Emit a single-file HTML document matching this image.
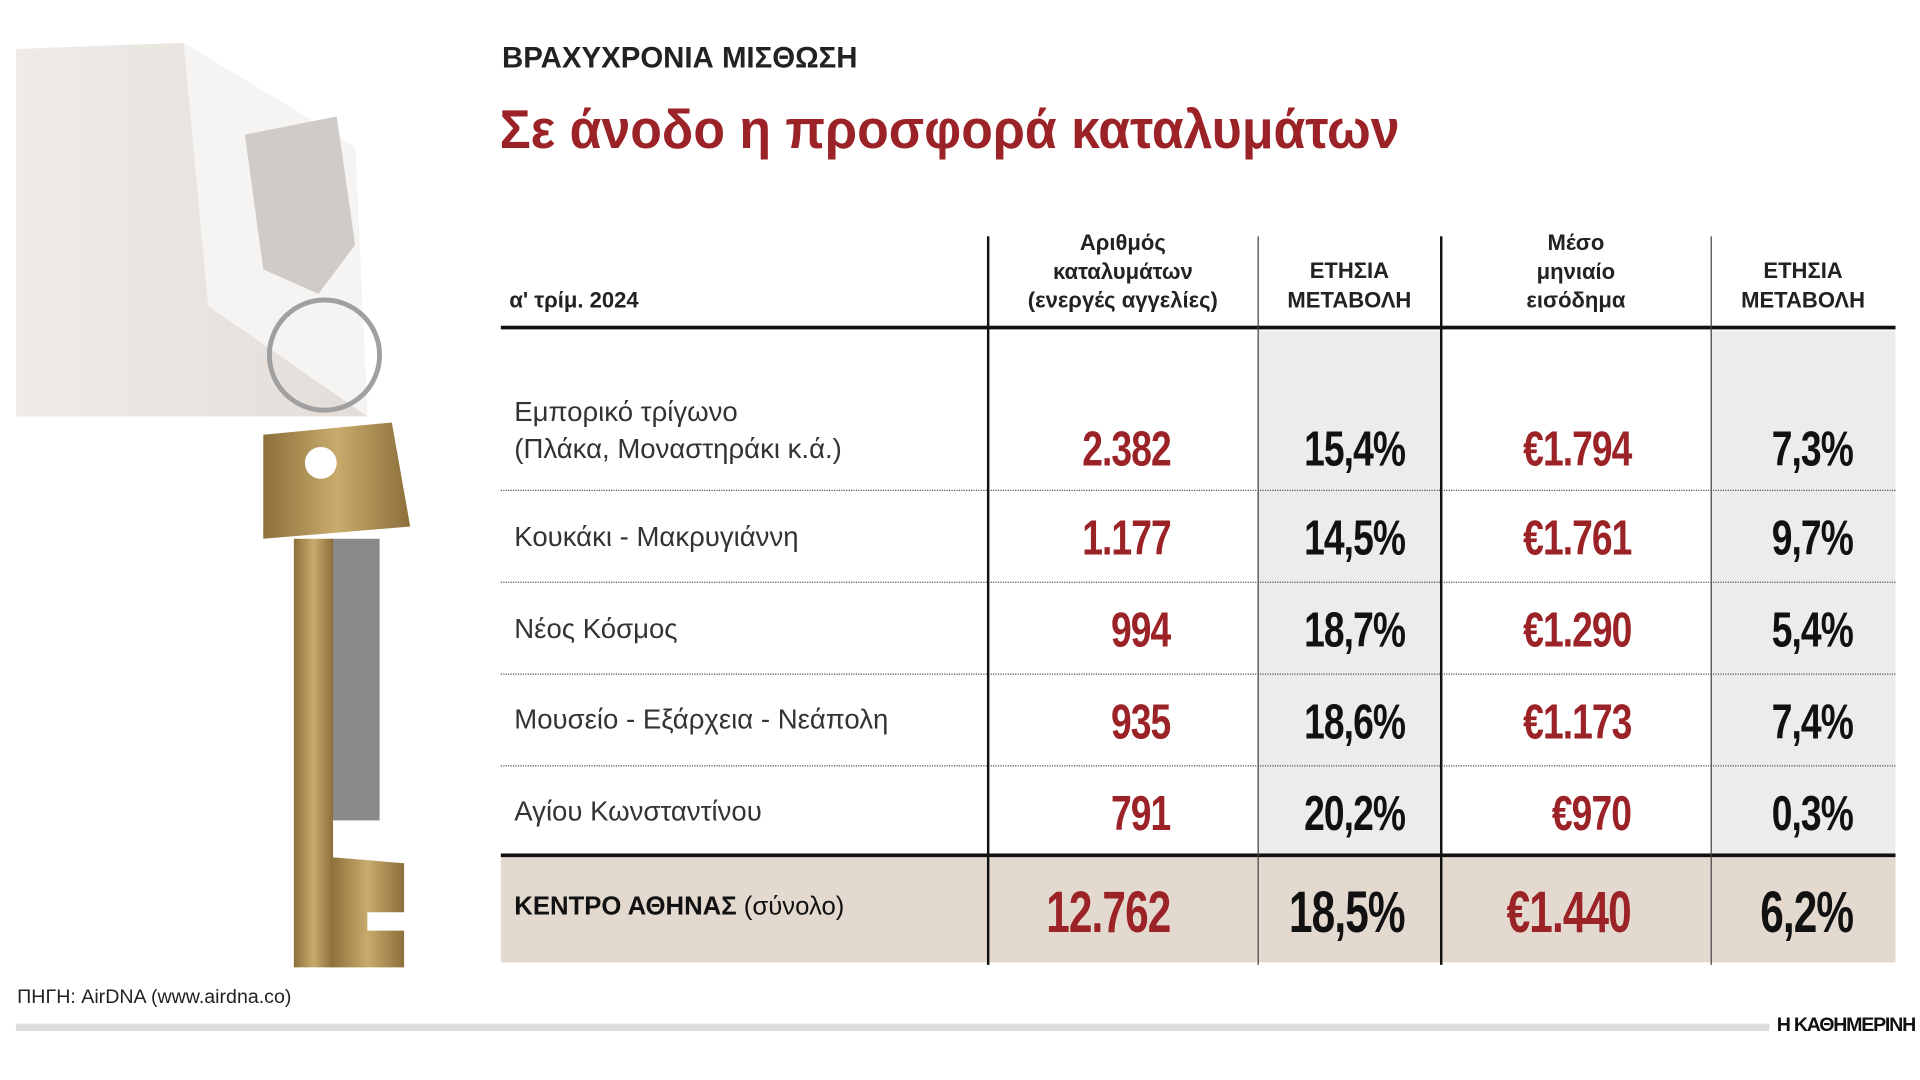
<!DOCTYPE html>
<html><head><meta charset="utf-8"><style>
html,body{margin:0;padding:0;background:#fff;}
body{width:1920px;height:1080px;overflow:hidden;position:relative;}
#c{position:absolute;left:0;top:0;width:1568px;height:882px;transform:scale(1.22449);transform-origin:0 0;font-family:"Liberation Sans",sans-serif;}
.a{position:absolute;white-space:nowrap;}
.h{font-weight:bold;font-size:18px;line-height:23.5px;text-align:center;color:#222;}
.lab{font-size:22.5px;color:#333;left:420px;}
.n{font-weight:bold;font-size:40px;color:#111;text-align:right;transform:scaleX(0.76);transform-origin:right center;line-height:40px;letter-spacing:-1px;}
.r{color:#9b2226;}
.dot{position:absolute;left:409px;width:1139px;border-top:1.5px dotted #555;}
</style></head><body><div id="c">
<svg class="a" style="left:0;top:0" width="400" height="800">
<defs><linearGradient id="g" x1="0" x2="1"><stop offset="0" stop-color="#efebe7"/><stop offset="1" stop-color="#e2ddd8"/></linearGradient>
<linearGradient id="k" x1="0" x2="1"><stop offset="0" stop-color="#8c6f3a"/><stop offset=".5" stop-color="#c8ab6c"/><stop offset="1" stop-color="#8c6f3a"/></linearGradient></defs>
<polygon points="13,40 150,35 290,120 300,340 13,340" fill="url(#g)"/>
<polygon points="150,35 290,120 300,340 170,250" fill="#f6f4f2"/>
<path d="M200,110 L275,95 L290,200 L260,240 L215,220 Z" fill="#cfcbc6"/>
<circle cx="265" cy="290" r="45" fill="none" stroke="#a0a0a0" stroke-width="4"/>
<path d="M215,355 L320,345 L335,430 L215,440 Z" fill="url(#k)"/>
<circle cx="262" cy="378" r="13" fill="#fff"/>
<rect x="270" y="440" width="40" height="230" fill="#8a8a8a"/>
<rect x="240" y="440" width="32" height="350" fill="url(#k)"/>
<path d="M270,700 L330,705 L330,745 L300,745 L300,760 L330,760 L330,790 L270,790 Z" fill="url(#k)"/>
</svg>
<div class="a" style="left:410px;top:34px;font-size:24px;font-weight:bold;color:#222;">ΒΡΑΧΥΧΡΟΝΙΑ ΜΙΣΘΩΣΗ</div>
<div class="a" style="left:408px;top:80px;font-size:45px;font-weight:bold;color:#9b2226;transform:scaleX(0.94);transform-origin:left center;">Σε άνοδο η προσφορά καταλυμάτων</div>
<div class="a" style="left:1027px;top:270px;width:150px;height:428px;background:#ececec"></div>
<div class="a" style="left:1397px;top:270px;width:151px;height:428px;background:#ececec"></div>
<div class="a" style="left:409px;top:700px;width:1139px;height:86px;background:#e3d9cf"></div>
<div class="a" style="left:409px;top:266px;width:1139px;height:3px;background:#111"></div>
<div class="a" style="left:409px;top:697px;width:1139px;height:3px;background:#111"></div>
<div class="dot" style="top:400px"></div><div class="dot" style="top:475px"></div><div class="dot" style="top:550px"></div><div class="dot" style="top:625px"></div>
<div class="a" style="left:806px;top:193px;width:2px;height:595px;background:#111"></div>
<div class="a" style="left:1027px;top:193px;width:1px;height:595px;background:#444"></div>
<div class="a" style="left:1176px;top:193px;width:2px;height:595px;background:#111"></div>
<div class="a" style="left:1397px;top:193px;width:1px;height:595px;background:#444"></div>
<div class="a h" style="left:416px;top:234px;text-align:left">α' τρίμ. 2024</div>
<div class="a h" style="left:807px;width:220px;top:187px">Αριθμός<br>καταλυμάτων<br>(ενεργές αγγελίες)</div>
<div class="a h" style="left:1027px;width:150px;top:210px">ΕΤΗΣΙΑ<br>ΜΕΤΑΒΟΛΗ</div>
<div class="a h" style="left:1177px;width:220px;top:187px">Μέσο<br>μηνιαίο<br>εισόδημα</div>
<div class="a h" style="left:1397px;width:151px;top:210px">ΕΤΗΣΙΑ<br>ΜΕΤΑΒΟΛΗ</div>
<div class="a lab" style="top:322px;line-height:30px">Εμπορικό τρίγωνο<br>(Πλάκα, Μοναστηράκι κ.ά.)</div>
<div class="a lab" style="top:426px">Κουκάκι - Μακρυγιάννη</div>
<div class="a lab" style="top:501px">Νέος Κόσμος</div>
<div class="a lab" style="top:575px">Μουσείο - Εξάρχεια - Νεάπολη</div>
<div class="a lab" style="top:650px">Αγίου Κωνσταντίνου</div>
<div class="a lab" style="top:729px;font-size:21px;color:#111"><b>ΚΕΝΤΡΟ ΑΘΗΝΑΣ</b> (σύνολο)</div>
<div id="nums"></div>
<script>
var rows=[[367,"2.382","15,4%","€1.794","7,3%"],[440,"1.177","14,5%","€1.761","9,7%"],[515,"994","18,7%","€1.290","5,4%"],[590,"935","18,6%","€1.173","7,4%"],[665,"791","20,2%","€970","0,3%"],[742,"12.762","18,5%","€1.440","6,2%"]];
var rx=[956,1147,1332,1513],h="";
rows.forEach(function(r,i){for(var j=0;j<4;j++){var fs=i==5?48:40;var sx=i==5?0.72:0.76;h+='<div class="a n'+(j%2==0?' r':'')+'" style="right:'+(1568-rx[j])+'px;top:'+(r[0]-20)+'px;font-size:'+fs+'px;line-height:'+fs+'px;transform:scaleX('+sx+')">'+r[j+1]+'</div>';}});
document.getElementById('nums').innerHTML=h;
</script>
<div class="a" style="left:14px;top:806px;font-size:16px;color:#222">ΠΗΓΗ: AirDNA (www.airdna.co)</div>
<div class="a" style="left:13px;top:836px;width:1432px;height:6px;background:#ddd"></div>
<div class="a" style="left:1451px;top:829px;font-size:16px;font-weight:bold;color:#111;letter-spacing:-1px">Η ΚΑΘΗΜΕΡΙΝΗ</div>
</div></body></html>
